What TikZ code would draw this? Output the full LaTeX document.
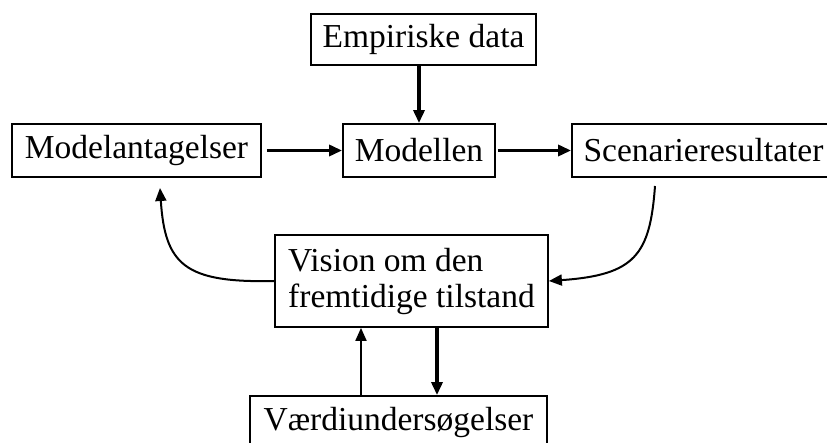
\documentclass[tikz,border=0pt]{standalone}
\usepackage{fontspec}
\setmainfont{Liberation Serif}
\usetikzlibrary{arrows.meta}

\begin{document}
\begin{tikzpicture}[x=0.5pt, y=-0.5pt,
    box/.style = {draw, line width=0.9pt, inner sep=0pt, minimum height=26.5pt, font=\fontsize{16.75}{18}\selectfont},
    flow/.style = {line width=1.6pt, -{Triangle[length=6.5pt, width=5.5pt]}},
    back/.style = {line width=1pt, -{Triangle[length=6.5pt, width=5.5pt]}}]
        \useasboundingbox (0,0) rectangle (827,443);
        \clip (0,0) rectangle (827,443);

        \node[box, minimum width=112.5pt, minimum height=25.5pt] (emp) at (423.5,39.5) {Empiriske data};
        \node[box, minimum width=124.5pt] (antag) at (136.5,150.5) {Modelantagelser};
        \node[box, minimum width=76pt] (model) at (419,150.5) {Modellen};
        \node[box, minimum width=131.5pt] (scen) at (703.5,150.5) {Scenarieresultater};
        \node[box, minimum width=136.5pt, minimum height=46pt, align=left] (vision) at (411.5,281) {Vision om den\\fremtidige tilstand};
        \node[box, minimum width=148.5pt] (vaerdi) at (398.5,422.5) {Værdiundersøgelser};

        \coordinate (scenout) at (655,186);
        \coordinate (antagin) at (160,188);

        \draw[flow] (emp.south -| model.north) -- (model.north);
        \draw[flow] ([xshift=2.5pt]antag.east) -- (model.west);
        \draw[flow] ([xshift=1pt]model.east) -- (scen.west);
        \draw[back] (scenout) .. controls (650,255) and (635,275) .. (vision.east);
        \draw[back] (vision.west) .. controls (185,283) and (165,265) .. (antagin);
        \draw[back] (vaerdi.north -| 361,0) -- (vision.south -| 361,0);
        \draw[flow] (vision.south -| 437,0) -- (vaerdi.north -| 437,0);
\end{tikzpicture}
\end{document}
